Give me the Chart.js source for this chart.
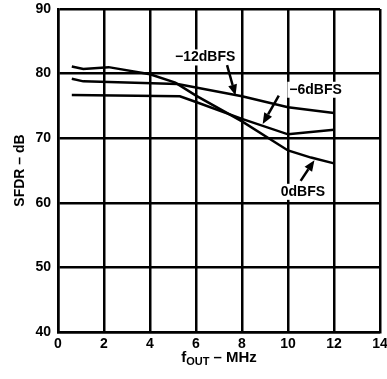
<!DOCTYPE html>
<html>
<head>
<meta charset="utf-8">
<script src="https://cdn.jsdelivr.net/npm/chart.js@4"></script>
<style>
  html, body { margin: 0; padding: 0; background: #fff; overflow: hidden; }
  #wrap { width: 400px; height: 379px; }
</style>
</head>
<body>
<div id="wrap"><canvas id="sfdrChart" width="400" height="379"></canvas></div>
<script>
// frequency (MHz) / SFDR (dB)
const freq0dB = [0.6, 1.1, 2.2, 4.0, 5.1, 6.0, 8.0, 10.0, 11.0, 12.0];
const sfdr0dB = [81.1, 80.7, 81.0, 79.9, 78.6, 76.6, 72.6, 68.1, 67.0, 66.1];

const freqMinus6 = [0.6, 5.3, 6.0, 8.0, 10.0, 12.0];
const sfdrMinus6 = [76.7, 76.5, 75.6, 73.0, 70.6, 71.3];

const freqMinus12 = [0.6, 1.1, 5.2, 8.0, 10.0, 12.0];
const sfdrMinus12 = [79.2, 78.8, 78.4, 76.5, 74.8, 73.9];

const xTicks = [0, 2, 4, 6, 8, 10, 12, 14];
const yTicks = [40, 50, 60, 70, 80, 90];

const toPoints = (xs, ys) => xs.map((x, i) => ({ x, y: ys[i] }));

// curve labels with arrows, in data units
const notes = [
  { text: "\u221212dBFS", at: [6.4, 82.5], from: [7.35, 81.3], to: [7.72, 76.6] },
  { text: "\u22126dBFS", at: [11.2, 77.5], from: [9.6, 76.6], to: [8.9, 72.2] },
  { text: "0dBFS", at: [10.65, 61.7], from: [10.55, 63.4], to: [11.15, 66.6] }
];

const FONT = "'Liberation Sans', Arial, sans-serif";

const notesPlugin = {
  id: "notes",
  afterDraw(chart) {
    const { ctx, scales: { x, y }, chartArea } = chart;
    ctx.save();
    ctx.font = "bold 14px " + FONT;
    ctx.textAlign = "center";
    ctx.textBaseline = "middle";
    notes.forEach(n => {
      const tx = x.getPixelForValue(n.at[0]);
      const ty = y.getPixelForValue(n.at[1]);
      const w = ctx.measureText(n.text).width;
      ctx.fillStyle = "#fff";
      ctx.fillRect(tx - w / 2 - 2, ty - 8, w + 4, 16);
      ctx.fillStyle = "#000";
      ctx.fillText(n.text, tx, ty);

      const x1 = x.getPixelForValue(n.from[0]), y1 = y.getPixelForValue(n.from[1]);
      const x2 = x.getPixelForValue(n.to[0]), y2 = y.getPixelForValue(n.to[1]);
      const ang = Math.atan2(y2 - y1, x2 - x1);
      const head = 11, half = 4.5;
      const bx = x2 - head * Math.cos(ang), by = y2 - head * Math.sin(ang);
      ctx.strokeStyle = "#000";
      ctx.lineWidth = 2.5;
      ctx.beginPath();
      ctx.moveTo(x1, y1);
      ctx.lineTo(bx, by);
      ctx.stroke();
      ctx.beginPath();
      ctx.moveTo(x2, y2);
      ctx.lineTo(bx + half * Math.sin(ang), by - half * Math.cos(ang));
      ctx.lineTo(bx - half * Math.sin(ang), by + half * Math.cos(ang));
      ctx.closePath();
      ctx.fill();
    });

    // x axis title with subscript
    const cx = (chartArea.left + chartArea.right) / 2;
    const ty = chartArea.bottom + 30;
    const big = "bold 15px " + FONT, small = "bold 11px " + FONT;
    ctx.textAlign = "left";
    ctx.textBaseline = "alphabetic";
    ctx.font = big; const wf = ctx.measureText("f").width;
    ctx.font = small; const ws = ctx.measureText("OUT").width;
    ctx.font = big; const wr = ctx.measureText(" \u2013 MHz").width;
    let sx = cx - (wf + ws + wr) / 2;
    ctx.font = big; ctx.fillText("f", sx, ty); sx += wf;
    ctx.font = small; ctx.fillText("OUT", sx, ty + 3); sx += ws;
    ctx.font = big; ctx.fillText(" \u2013 MHz", sx, ty);
    ctx.restore();
  }
};

const lineStyle = {
  borderColor: "#000",
  borderWidth: 2.5,
  pointRadius: 0,
  tension: 0,
  fill: false
};

new Chart(document.getElementById("sfdrChart").getContext("2d"), {
  type: "line",
  data: {
    datasets: [
      { label: "0dBFS", data: toPoints(freq0dB, sfdr0dB), ...lineStyle },
      { label: "-6dBFS", data: toPoints(freqMinus6, sfdrMinus6), ...lineStyle },
      { label: "-12dBFS", data: toPoints(freqMinus12, sfdrMinus12), ...lineStyle }
    ]
  },
  options: {
    responsive: false,
    animation: false,
    events: [],
    layout: { padding: { top: 9, right: 20, left: 0, bottom: 0 } },
    plugins: { legend: { display: false }, tooltip: { enabled: false } },
    scales: {
      x: {
        type: "linear",
        min: 0, max: 14,
        afterBuildTicks: s => { s.ticks = xTicks.map(v => ({ value: v })); },
        afterFit: s => { s.height = 47; s.paddingLeft = 0; s.paddingRight = 0; },
        grid: { color: "#000", lineWidth: 2.5, drawTicks: false },
        border: { color: "#000", width: 2.5 },
        ticks: { color: "#000", padding: 4, font: { family: FONT, size: 14, weight: "bold" } }
      },
      y: {
        min: 40, max: 90,
        afterBuildTicks: s => { s.ticks = yTicks.map(v => ({ value: v })); },
        afterFit: s => { s.width = 58; s.paddingTop = 0; s.paddingBottom = 0; },
        grid: { color: "#000", lineWidth: 2.5, drawTicks: false },
        border: { color: "#000", width: 2.5 },
        ticks: { color: "#000", padding: 7, font: { family: FONT, size: 14, weight: "bold" } },
        title: {
          display: true,
          text: "SFDR \u2013 dB",
          color: "#000",
          padding: { top: 12, bottom: 4 },
          font: { family: FONT, size: 14, weight: "bold" }
        }
      }
    }
  },
  plugins: [notesPlugin]
});
</script>
</body>
</html>
